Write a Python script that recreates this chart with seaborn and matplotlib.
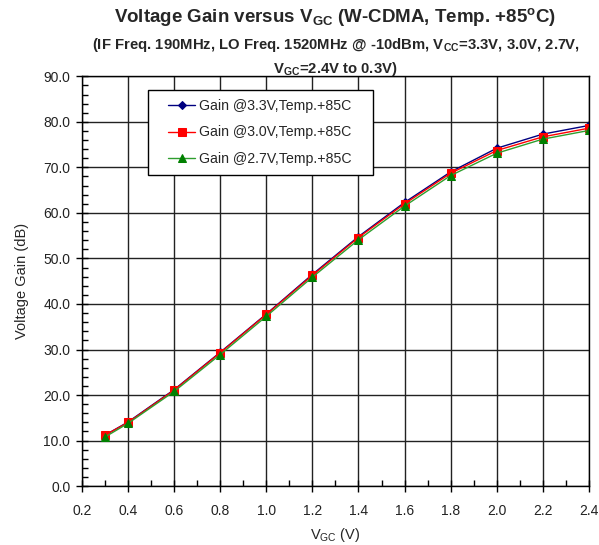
import matplotlib
matplotlib.use("Agg")
import numpy as np
import pandas as pd
import matplotlib.pyplot as plt
import seaborn as sns
from matplotlib.ticker import MultipleLocator
from matplotlib.legend_handler import HandlerLine2D
from matplotlib.lines import Line2D

# data
vgc = [0.3, 0.4, 0.6, 0.8, 1.0, 1.2, 1.4, 1.6, 1.8, 2.0, 2.2, 2.4]
gain_33 = [11.2, 14.1, 21.2, 29.4, 37.8, 46.5, 54.8, 62.3, 69.0, 74.2, 77.3, 79.2]
gain_30 = [11.2, 14.0, 21.1, 29.3, 37.7, 46.3, 54.6, 62.0, 68.7, 73.7, 76.7, 78.6]
gain_27 = [10.8, 13.8, 20.8, 28.9, 37.3, 45.9, 54.1, 61.5, 68.2, 73.1, 76.2, 78.1]
labels = ["Gain @3.3V,Temp.+85C", "Gain @3.0V,Temp.+85C", "Gain @2.7V,Temp.+85C"]
colors = ["#000080", "#FF0000", "#008000"]
line_colors = ["#000080", "#FF0000", "#2E9E2E"]
markers = ["D", "s", "^"]
msizes = [4, 6, 6]

sns.set_style("white")
plt.rcParams["font.family"] = ["Liberation Sans", "DejaVu Sans"]
plt.rcParams["mathtext.default"] = "regular"

fig = plt.figure(figsize=(5.99, 5.45), dpi=100)
ax = fig.add_axes([0.137, 0.108, 0.846, 0.752])

for y, lab, c, lc, m, ms in zip([gain_33, gain_30, gain_27], labels, colors, line_colors, markers, msizes):
    df = pd.DataFrame({"vgc": vgc, "gain": y})
    sns.lineplot(data=df, x="vgc", y="gain", ax=ax, color=lc, linewidth=1.0,
                 marker=m, markersize=ms, markerfacecolor=c, markeredgecolor=c,
                 label=lab)

ax.set_xlim(0.2, 2.4)
ax.set_ylim(0, 90)
ax.xaxis.set_major_locator(MultipleLocator(0.2))
ax.xaxis.set_minor_locator(MultipleLocator(0.1))
ax.yaxis.set_major_locator(MultipleLocator(10))
ax.yaxis.set_minor_locator(MultipleLocator(2))
ax.xaxis.set_major_formatter(plt.FuncFormatter(lambda v, p: f"{v:.1f}"))
ax.yaxis.set_major_formatter(plt.FuncFormatter(lambda v, p: f"{v:.1f}"))
ax.tick_params(axis="both", which="both", bottom=True, left=True)
ax.tick_params(axis="both", which="major", direction="inout", length=9, width=1,
               labelsize=10, color="black", labelcolor="#222222")
ax.tick_params(axis="x", which="major", pad=8)
ax.tick_params(axis="y", which="major", pad=4)
ax.tick_params(axis="both", which="minor", direction="in", length=4, width=1, color="black")
ax.grid(True, which="major", color="#222222", linewidth=1.0)
ax.set_axisbelow(True)
for s in ax.spines.values():
    s.set_color("black")
    s.set_linewidth(1.0)

ax.set_xlabel("V$_{GC}$ (V)", fontsize=10.5, labelpad=6)
ax.set_ylabel("Voltage Gain (dB)", fontsize=10.5, labelpad=10)

fig.text(0.56, 0.968, "Voltage Gain versus V$_{GC}$ (W-CDMA, Temp. +85$^{o}$C)",
         ha="center", va="center", fontsize=13.5, fontweight="bold")
fig.text(0.56, 0.918, "(IF Freq. 190MHz, LO Freq. 1520MHz @ -10dBm, V$_{CC}$=3.3V, 3.0V, 2.7V,",
         ha="center", va="center", fontsize=10.7, fontweight="bold")
fig.text(0.56, 0.874, "V$_{GC}$=2.4V to 0.3V)",
         ha="center", va="center", fontsize=10.7, fontweight="bold")

# legend: extra room left of the handles and right of the labels, like the original
leg = ax.legend(loc="upper left", bbox_to_anchor=(0.130, 0.966, 0.444, 0), mode="expand",
                fontsize=10.2, frameon=True, fancybox=False, edgecolor="black", framealpha=1,
                borderpad=0.6, labelspacing=0.9, handlelength=2.7,
                handletextpad=0.3, borderaxespad=0,
                handler_map={Line2D: HandlerLine2D(xpad=0.85)})
leg.get_frame().set_linewidth(1.0)

fig.savefig("out.png", dpi=100)
